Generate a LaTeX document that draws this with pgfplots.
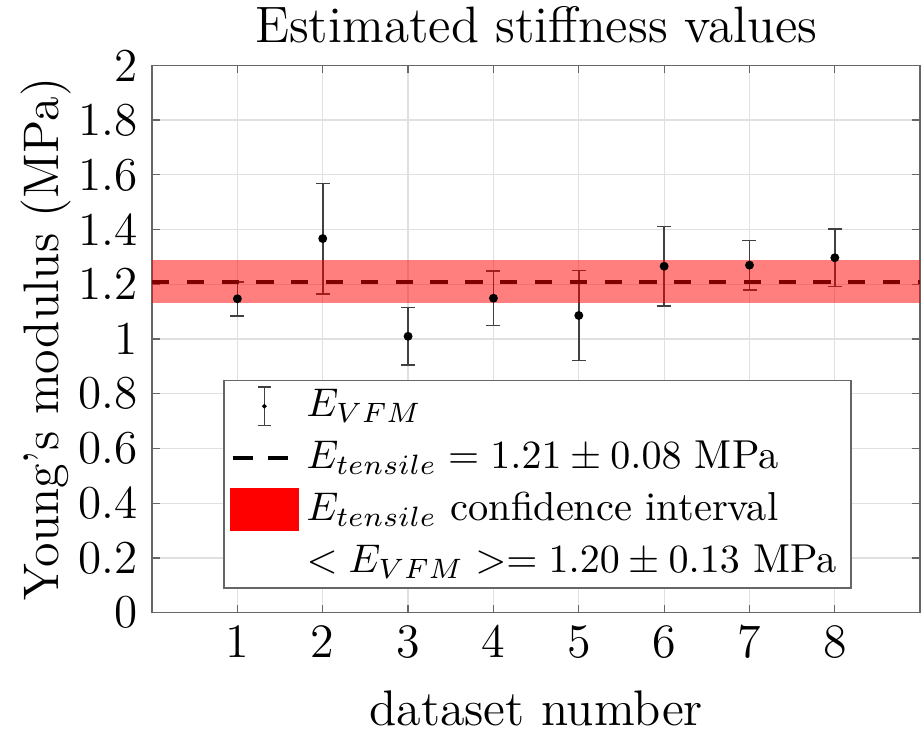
\documentclass[border=0pt]{standalone}
\usepackage{pgfplots}
\pgfplotsset{compat=1.18}

% Young's modulus from VFM per dataset: value and half-width of error bar
\pgfplotstableread{
x   E      err
1   1.147  0.062
2   1.367  0.202
3   1.010  0.105
4   1.149  0.100
5   1.086  0.165
6   1.266  0.145
7   1.270  0.090
8   1.297  0.105
}\vfmdata

\begin{document}
\begin{tikzpicture}
\begin{axis}[
  scale only axis,
  width=192pt, height=136.8pt,
  xmin=0, xmax=9, ymin=0, ymax=2,
  xtick={1,2,3,4,5,6,7,8},
  ytick={0,0.2,0.4,0.6,0.8,1,1.2,1.4,1.6,1.8,2},
  yticklabels={0,0.2,0.4,0.6,0.8,1,1.2,1.4,1.6,1.8,2},
  tick align=inside,
  major tick length=2pt,
  axis line style={black!60, line width=0.4pt},
  every tick/.style={black!60, line width=0.3pt},
  grid=major,
  major grid style={black!12, line width=0.3pt},
  ticklabel style={font=\fontsize{11.8}{13}\selectfont},
  label style={font=\fontsize{12.5}{14}\selectfont},
  ylabel style={yshift=-5pt},
  xlabel style={yshift=-1.5pt},
  title style={font=\fontsize{12.8}{15}\selectfont, inner ysep=1.5pt, yshift=-2pt},
  title={Estimated stiffness values},
  xlabel={dataset number},
  ylabel={Young's modulus (MPa)},
  legend cell align=left,
  legend style={
    at={(0.093,0.044)}, anchor=south west,
    draw=black!60, line width=0.4pt,
    font=\fontsize{10.1}{12}\selectfont,
    row sep=0.5pt,
    inner xsep=1.5pt, inner ysep=0.3pt,
  },
]
% VFM estimates with error bars
\addplot[
  black, only marks, mark=*, mark size=0.9pt,
  legend image code/.code={%
    \draw[black!75, line width=0.4pt] (0.3cm,-0.17cm) -- (0.3cm,0.17cm);
    \draw[black!75, line width=0.4pt] (0.245cm,-0.17cm) -- (0.355cm,-0.17cm);
    \draw[black!75, line width=0.4pt] (0.245cm,0.17cm) -- (0.355cm,0.17cm);
    \fill[black] (0.3cm,0) circle (0.35pt);
  },
  error bars/.cd, y dir=both, y explicit,
  error bar style={black!75, line width=0.4pt},
  error mark options={black!75, rotate=90, mark size=1.75pt, line width=0.4pt},
] table[x=x, y=E, y error=err] {\vfmdata};
\addlegendentry{$E_{VFM}$}

% tensile test reference value
\addplot[
  black, line width=1pt, dash pattern=on 4.3pt off 4.4pt,
  legend image code/.code={%
    \draw[black, line width=1pt, dash pattern=on 5pt off 3.8pt] (0.02cm,0) -- (0.58cm,0);
  },
] coordinates {(0,1.21) (9,1.21)};
\addlegendentry{$E_{tensile} = 1.21 \pm 0.08$ MPa}

% confidence interval of the tensile value
\addplot[
  draw=none, fill=red, fill opacity=0.5,
  legend image code/.code={%
    \fill[red, fill opacity=1] (0,-0.19cm) rectangle (0.6cm,0.19cm);
  },
] coordinates {(0,1.13) (9,1.13) (9,1.29) (0,1.29)} -- cycle;
\addlegendentry{$E_{tensile}$ confidence interval}

\addlegendimage{empty legend}
\addlegendentry{$< E_{VFM} >= 1.20 \pm 0.13$ MPa}
\end{axis}
% room to the left of the y label
\path ([xshift=-38pt]current axis.south west);
\end{tikzpicture}
\end{document}
